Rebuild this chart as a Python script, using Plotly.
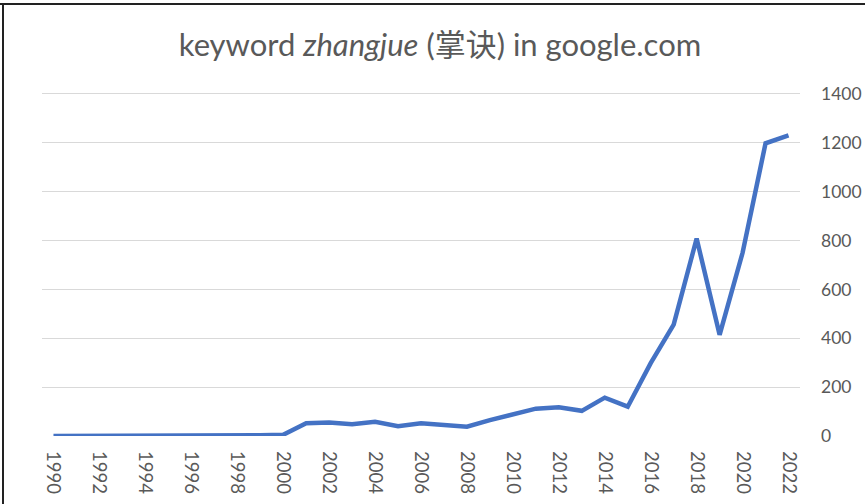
import plotly.graph_objects as go

years = list(range(1990, 2023))
counts = [0, 0, 0, 0, 0, 0, 1, 1, 2, 3, 5,
          52, 55, 48, 58, 40, 52, 47, 38, 65, 88,
          112, 118, 103, 157, 120, 298, 456, 808, 414, 750,
          1198, 1230]
x_ticks = list(range(1990, 2023, 2))
y_ticks = list(range(0, 1401, 200))

title_text = "keyword <i>zhangjue</i> (掌诀) in google.com"
font_family = "Lato, 'Noto Sans CJK SC', sans-serif"
gray = "#595959"

fig = go.Figure()
fig.add_trace(go.Scatter(
    x=years, y=counts, mode="lines",
    line=dict(color="#4472C4", width=4.5),
    hoverinfo="x+y",
))

fig.update_layout(
    width=865, height=504,
    margin=dict(l=42, r=65, t=92, b=68, autoexpand=False),
    paper_bgcolor="white", plot_bgcolor="white",
    showlegend=False,
    title=dict(text=title_text, x=440 / 865, xanchor="center", y=1 - 45 / 504, yanchor="middle",
               font=dict(family=font_family, size=31, color=gray)),
    font=dict(family=font_family, color=gray),
    xaxis=dict(
        range=[1989.5, 2022.5], tickmode="array", tickvals=x_ticks,
        ticktext=[str(v) for v in x_ticks], tickangle=90,
        showgrid=False, zeroline=False, showline=False, ticks="",
        tickfont=dict(size=18.5, color=gray), ticklabelstandoff=14,
        automargin=False,
    ),
    yaxis=dict(
        side="right", range=[0, 1408], tickmode="array", tickvals=y_ticks,
        showgrid=True, gridcolor="#d9d9d9", gridwidth=1, zeroline=False,
        showline=False, ticks="", tickfont=dict(size=17.5, color=gray),
        ticklabelstandoff=20, automargin=False,
    ),
    shapes=[
        dict(type="line", xref="paper", yref="paper", x0=-42/758, x1=1.2, y0=1 + 88/344, y1=1 + 88/344,
             line=dict(color="#222", width=2)),
        dict(type="line", xref="paper", yref="paper", x0=-39/758, x1=-39/758, y0=-0.3, y1=1 + 88/344,
             line=dict(color="#222", width=2)),
    ],
)

fig.write_html("out.html", config={"displayModeBar": False},
               post_script="document.body.style.margin='0';document.body.style.overflow='hidden';")
